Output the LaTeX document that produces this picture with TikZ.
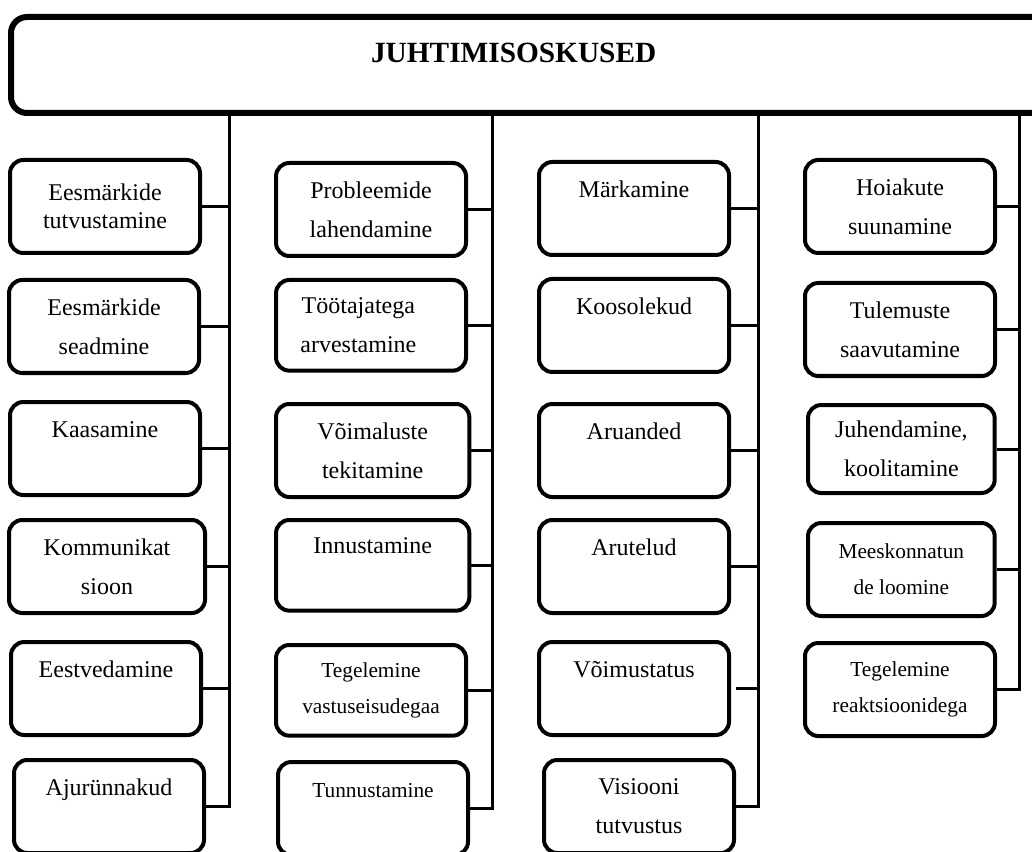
\documentclass[tikz,border=0pt]{standalone}
\usepackage{fontspec}
\setmainfont{Liberation Serif}
\begin{document}
\begin{tikzpicture}[x=0.75pt,y=0.75pt,yscale=-1,xscale=1,
        headbox/.style={draw, line width=4.5pt, rounded corners=12pt, anchor=north west, minimum width=790pt, minimum height=72pt, text depth=18pt, font=\bfseries\fontsize{22}{26}\selectfont},
        skill/.style={draw, line width=3pt, rounded corners=10pt, anchor=north west, align=center, inner sep=0pt, minimum width=142.5pt, minimum height=69.75pt, font=\fontsize{18}{29}\selectfont},
        small/.style={font=\fontsize{16}{27}\selectfont},
        link/.style={line width=2.25pt}]
        \useasboundingbox (0,0) rectangle (1032,852);
        % heading
        \draw (8,14) node [headbox] (top) {JUHTIMISOSKUSED\kern36pt};
        \coordinate (ta) at (229,114);
        \coordinate (tb) at (492,114);
        \coordinate (tc) at (758,114);
        \coordinate (td) at (1019,114);
        % first column
        \draw (8,158) node [skill, font=\fontsize{18}{21}\selectfont] (a1) {Eesmärkide\\tutvustamine};
        \draw (7,278) node [skill] (a2) {Eesmärkide\\seadmine};
        \draw (8,400) node [skill] (a3) {Kaasamine\\~};
        \draw (7,518) node [skill, minimum width=147pt] (a4) {Kommunikat\\sioon};
        \draw (9,640) node [skill] (a5) {Eestvedamine\\~};
        \draw (12,758) node [skill] (a6) {Ajurünnakud\\~};
        % second column
        \draw (274,161) node [skill] (b1) {Probleemide\\lahendamine};
        \draw (274,278) node [skill, minimum height=68pt] (b2) {Töötajatega\hspace*{19pt}\\arvestamine\hspace*{19pt}};
        \draw (274,402) node [skill, minimum width=145pt] (b3) {Võimaluste\\tekitamine};
        \draw (274,518) node [skill, minimum width=145pt, minimum height=68pt] (b4) {Innustamine\\~};
        \draw (274,643) node [skill, small, minimum height=68pt] (b5) {Tegelemine\\vastuseisudegaa};
        \draw (276,760) node [skill, small] (b6) {Tunnustamine\\~};
        % third column
        \draw (537,160) node [skill] (c1) {Märkamine\\~};
        \draw (537,277) node [skill] (c2) {Koosolekud\\~};
        \draw (537,402) node [skill] (c3) {Aruanded\\~};
        \draw (537,518) node [skill] (c4) {Arutelud\\~};
        \draw (537,640) node [skill] (c5) {Võimustatus\\~};
        \draw (542,758) node [skill] (c6) {Visiooni\\tutvustus};
        % fourth column
        \draw (803,158) node [skill] (d1) {Hoiakute\\suunamine};
        \draw (803,281) node [skill] (d2) {Tulemuste\\saavutamine};
        \draw (806,403) node [skill, minimum width=140pt, minimum height=66pt] (d3) {Juhendamine,\\koolitamine};
        \draw (806,521) node [skill, small, minimum width=140pt] (d4) {Meeskonnatun\\de loomine};
        \draw (803,641) node [skill, small] (d5) {Tegelemine\\reaktsioonidega};
        % trunks
        \draw [link] (ta) |- (a6.east);
        \draw [link] (tb) |- (b6.east);
        \draw [link] (tc) |- (c6.east);
        \draw [link] (td) |- (d5.east);
        % branches
        \draw [link] (a1.east) -- (a1.east -| ta);
        \draw [link] (a2.east) -- (a2.east -| ta);
        \draw [link] (a3.east) -- (a3.east -| ta);
        \draw [link] (a4.east) -- (a4.east -| ta);
        \draw [link] (a5.east) -- (a5.east -| ta);
        \draw [link] (b1.east) -- (b1.east -| tb);
        \draw [link] (b2.east) -- (b2.east -| tb);
        \draw [link] (b3.east) -- (b3.east -| tb);
        \draw [link] (b4.east) -- (b4.east -| tb);
        \draw [link] (b5.east) -- (b5.east -| tb);
        \draw [link] (c1.east) -- (c1.east -| tc);
        \draw [link] (c2.east) -- (c2.east -| tc);
        \draw [link] (c3.east) -- (c3.east -| tc);
        \draw [link] (c4.east) -- (c4.east -| tc);
        \draw [link] ([xshift=4pt]c5.east) -- (c5.east -| tc);
        \draw [link] (d1.east) -- (d1.east -| td);
        \draw [link] (d2.east) -- (d2.east -| td);
        \draw [link] (d3.east) -- (d3.east -| td);
        \draw [link] (d4.east) -- (d4.east -| td);
    \end{tikzpicture}
\end{document}
